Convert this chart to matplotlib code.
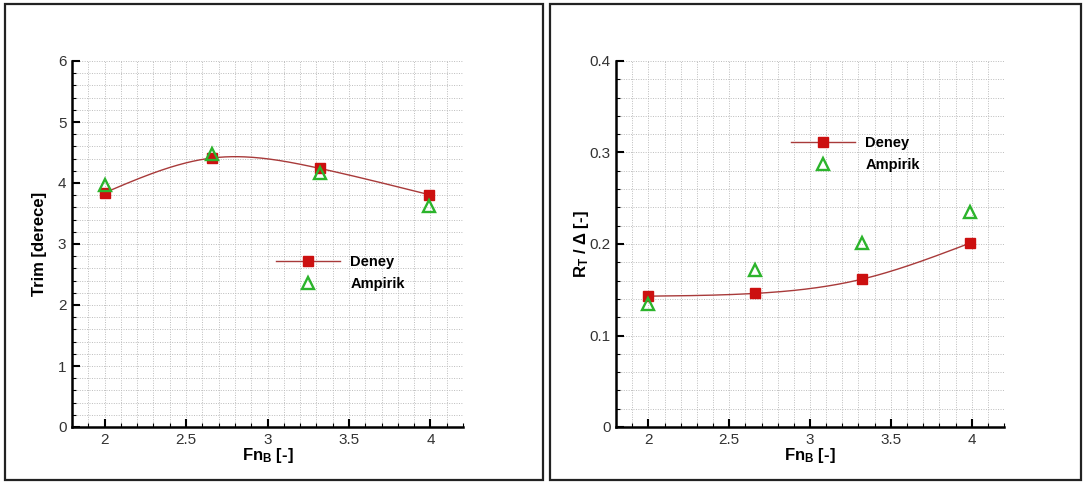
import numpy as np
import matplotlib
matplotlib.use("Agg")
import matplotlib.pyplot as plt
from matplotlib.patches import Rectangle
from matplotlib.ticker import MultipleLocator, FormatStrFormatter

plt.rcParams['font.family'] = ['Liberation Sans', 'DejaVu Sans']
plt.rcParams['mathtext.fontset'] = 'custom'
plt.rcParams['mathtext.rm'] = 'Liberation Sans:bold'
plt.rcParams['mathtext.it'] = 'Liberation Sans:bold'
plt.rcParams['mathtext.bf'] = 'Liberation Sans:bold'

# Froude numbers (volumetric)
fn_b = [2.0, 2.66, 3.32, 3.99]

# trim angle [deg]
trim_deney = [3.84, 4.41, 4.24, 3.81]
trim_ampirik = [3.97, 4.48, 4.17, 3.62]

# total resistance / displacement
rt_deney = [0.143, 0.146, 0.1615, 0.201]
rt_ampirik = [0.1345, 0.172, 0.2015, 0.2345]

x_ticks = [2, 2.5, 3, 3.5, 4]

RED = '#cc1010'
LINE = '#a83a3a'
GREEN = '#2cb42c'


def natural_spline(x, y, n=200):
    x = np.asarray(x, float)
    y = np.asarray(y, float)
    h = np.diff(x)
    k = len(x)
    A = np.zeros((k, k))
    b = np.zeros(k)
    A[0, 0] = A[-1, -1] = 1.0
    for i in range(1, k - 1):
        A[i, i - 1] = h[i - 1]
        A[i, i] = 2 * (h[i - 1] + h[i])
        A[i, i + 1] = h[i]
        b[i] = 6 * ((y[i + 1] - y[i]) / h[i] - (y[i] - y[i - 1]) / h[i - 1])
    M = np.linalg.solve(A, b)
    xs = np.linspace(x[0], x[-1], n)
    idx = np.clip(np.searchsorted(x, xs) - 1, 0, k - 2)
    x0, x1 = x[idx], x[idx + 1]
    hh = x1 - x0
    t0, t1 = x1 - xs, xs - x0
    ys = (M[idx] * t0 ** 3 + M[idx + 1] * t1 ** 3) / (6 * hh) \
        + (y[idx] / hh - M[idx] * hh / 6) * t0 \
        + (y[idx + 1] / hh - M[idx + 1] * hh / 6) * t1
    return xs, ys


def draw_panel(ax, deney, ampirik, ylim, ymajor, yminor, yfmt, ylabel, leg_xy):
    xs, ys = natural_spline(fn_b, deney)
    ax.plot(xs, ys, color=LINE, lw=1.0, zorder=3)
    ax.plot(fn_b, deney, ls='none', marker='s', ms=6.5, color=RED, zorder=4)
    ax.plot(fn_b, ampirik, ls='none', marker='^', ms=8.5, mfc='none',
            mec=GREEN, mew=1.7, zorder=5)

    # legend proxies
    h1, = ax.plot([], [], color=LINE, lw=1.0, marker='s', ms=6.5,
                  mfc=RED, mec=RED)
    h2, = ax.plot([], [], ls='none', marker='^', ms=8.5, mfc='none',
                  mec=GREEN, mew=1.7)
    ax.legend([h1, h2], ['Deney', 'Ampirik'], loc='upper left',
              bbox_to_anchor=leg_xy, frameon=False, numpoints=1,
              handlelength=4.4, handletextpad=0.7, labelspacing=0.55,
              borderpad=0, borderaxespad=0,
              prop={'weight': 'bold', 'size': 10.5})

    ax.set_xlim(1.8, 4.2)
    ax.set_ylim(*ylim)
    ax.set_xticks(x_ticks)
    ax.xaxis.set_major_formatter(FormatStrFormatter('%g'))
    ax.yaxis.set_major_locator(MultipleLocator(ymajor))
    ax.yaxis.set_major_formatter(FormatStrFormatter(yfmt))
    ax.xaxis.set_minor_locator(MultipleLocator(0.1))
    ax.yaxis.set_minor_locator(MultipleLocator(yminor))

    ax.grid(which='both', color='#bcbcbc', lw=0.7, ls=(0, (1, 1.5)))
    ax.set_axisbelow(True)

    for s in ['top', 'right']:
        ax.spines[s].set_visible(False)
    for s in ['left', 'bottom']:
        ax.spines[s].set_linewidth(1.8)
        ax.spines[s].set_color('black')

    ax.tick_params(which='major', direction='in', length=6, width=1.5,
                   labelsize=11, labelcolor='#333333', pad=4)
    ax.tick_params(which='minor', direction='in', length=3, width=0.8)

    ax.set_xlabel(r'Fn$_\mathregular{B}$ [-]', fontsize=12, fontweight='bold')
    ax.set_ylabel(ylabel, fontsize=12, fontweight='bold')
    ax.xaxis.set_label_coords(0.5, -0.052)
    ax.yaxis.set_label_coords(-0.064, 0.5)


fig = plt.figure(figsize=(10.83, 4.82), dpi=100)
W, H = 1083.0, 482.0

# panel frames
for x0, x1 in [(5, 543), (550, 1081)]:
    fig.patches.append(Rectangle((x0 / W, 2 / H), (x1 - x0) / W, (478 - 2) / H,
                                 transform=fig.transFigure, fill=False,
                                 edgecolor='#222222', lw=1.6))

ax1 = fig.add_axes([72 / W, 1 - 427 / H, (463 - 72) / W, (427 - 61) / H])
draw_panel(ax1, trim_deney, trim_ampirik, (0, 6), 1, 0.2, '%g',
           'Trim [derece]', (0.522, 0.471))

ax2 = fig.add_axes([616 / W, 1 - 427 / H, (1004 - 616) / W, (427 - 61) / H])
draw_panel(ax2, rt_deney, rt_ampirik, (0, 0.4), 0.1, 0.02, '%g',
           r'$R_T$ / Δ [-]', (0.451, 0.794))

fig.savefig('out.png', dpi=100)
